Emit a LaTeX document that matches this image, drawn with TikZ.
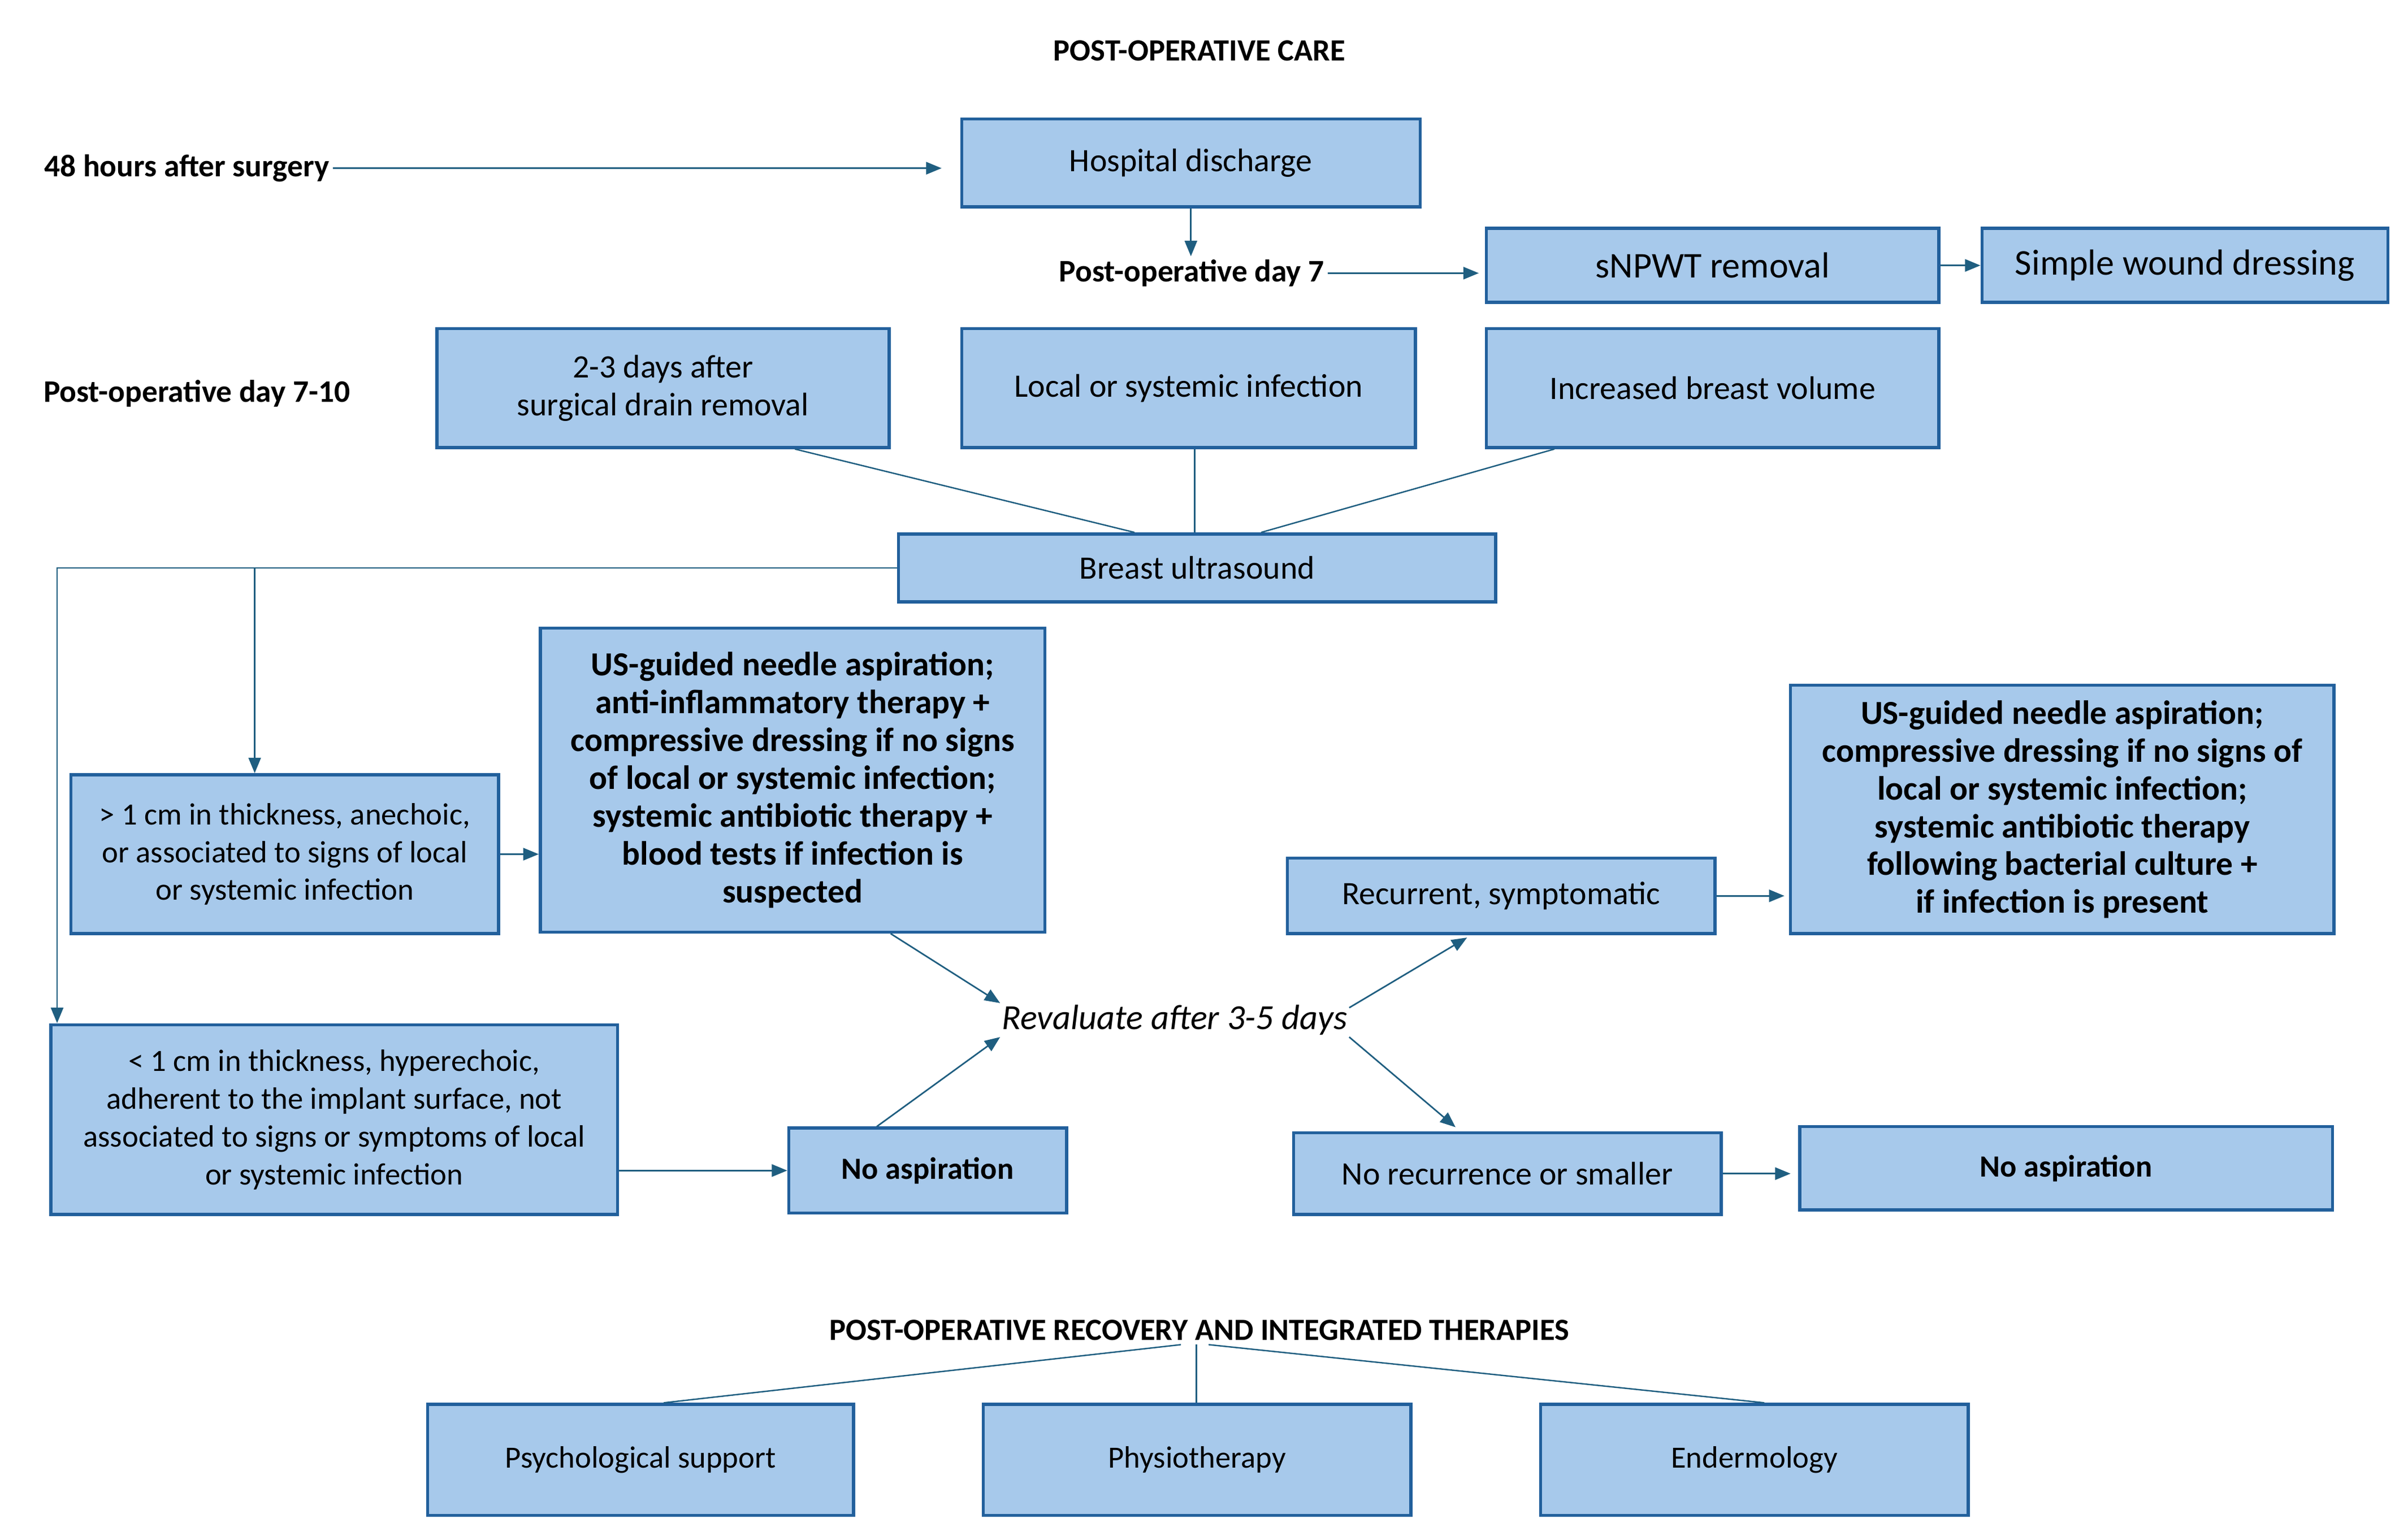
\documentclass[tikz,border=0pt]{standalone}
\usepackage{fontspec}
\setmainfont{Carlito}
\usetikzlibrary{arrows.meta,calc}
\definecolor{boxfill}{HTML}{A7C9EB}
\definecolor{boxline}{HTML}{22609C}
\definecolor{arrc}{HTML}{1F5E80}
\newcommand{\fsz}[2]{\fontsize{#1}{#2}\selectfont}
\begin{document}
\begin{tikzpicture}[x=1pt,y=-1pt,
  box/.style={draw=boxline, fill=boxfill, line width=2pt, align=center, inner sep=2pt, font=\fsz{21.2}{24.5}},
  bx/.style 2 args={box, minimum width=#1pt, minimum height=#2pt},
  lbl/.style={font=\fsz{20.3}{23}\bfseries, inner sep=2pt},
  ttl/.style={font=\fsz{20}{22}\bfseries, inner sep=2.5pt},
  bld/.style={font=\fsz{21.8}{24.5}\bfseries},
  arr/.style={draw=arrc, line width=1pt, -{Triangle[length=10pt,width=8pt]}},
  ln/.style={draw=arrc, line width=0.9pt}]
\useasboundingbox (0,0) rectangle (1560,995);

% titles and labels
\node[ttl] (t1) at (777,33) {POST-OPERATIVE CARE};
\node[lbl] (h48) at (121,109) {48 hours after surgery};
\node[lbl] (pod7) at (772,177) {Post-operative day 7};
\node[lbl] (pod710) at (127.5,255) {Post-operative day 7-10};
\node[ttl] (t2) at (777,862) {POST-OPERATIVE RECOVERY AND INTEGRATED THERAPIES};
\node[font=\fsz{22.8}{26}\itshape, inner sep=1pt] (rev) at (761,661) {Revaluate after 3-5 days};

% boxes
\node[bx={297}{57}] (hd) at (771.5,105.5) {Hospital discharge};
\node[bx={293}{48}, font=\fsz{23.5}{27}] (snpwt) at (1109.5,172) {sNPWT removal};
\node[bx={263}{48}, font=\fsz{23.5}{27}] (swd) at (1415.5,172) {Simple wound dressing};
\node[bx={293}{77}] (d23) at (429.5,251.5) {2-3 days after\\surgical drain removal};
\node[bx={294}{77}] (lsi) at (770,251.5) {Local or systemic infection};
\node[bx={293}{77}] (ibv) at (1109.5,251.5) {Increased breast volume};
\node[bx={387}{44}] (bu) at (775.5,368) {Breast ultrasound};
\node[bx={277}{103}, font=\fsz{20}{24.5}] (gt) at (184.5,553.5) {> 1 cm in thickness, anechoic,\\or associated to signs of local\\or systemic infection};
\node[bx={327}{197}, bld] (usg1) at (513.5,505.5) {US-guided needle aspiration;\\anti-inflammatory therapy +\\compressive dressing if no signs\\of local or systemic infection;\\systemic antibiotic therapy +\\blood tests if infection is\\suspected};
\node[bx={367}{123}, font=\fsz{20}{24.5}] (lt) at (216.5,725.5) {< 1 cm in thickness, hyperechoic,\\adherent to the implant surface, not\\associated to signs or symptoms of local\\or systemic infection};
\node[bx={180}{55}, font=\fsz{20}{24.5}\bfseries] (na1) at (601,758.5) {No aspiration};
\node[bx={277}{49}] (rec) at (972.5,580.5) {Recurrent, symptomatic};
\node[bx={352}{161}, bld] (usg2) at (1336,524.5) {US-guided needle aspiration;\\compressive dressing if no signs of\\local or systemic infection;\\systemic antibiotic therapy\\following bacterial culture +\\if infection is present};
\node[bx={277}{53}] (nrs) at (976.5,760.5) {No recurrence or smaller};
\node[bx={345}{54}, font=\fsz{20}{24.5}\bfseries] (na2) at (1338.5,757) {No aspiration};
\node[bx={276}{72}, font=\fsz{20}{23}] (ps) at (415,946) {Psychological support};
\node[bx={277}{72}, font=\fsz{20}{23}] (ph) at (775.5,946) {Physiotherapy};
\node[bx={277}{72}, font=\fsz{20}{23}] (en) at (1136.5,946) {Endermology};

% connectors top
\draw[arr, shorten >=12pt] (h48.east) -- (h48.east -| hd.west);
\draw[arr] (hd.south) -- (hd.south |- pod7.north);
\draw[arr, shorten >=4pt] (pod7.east) -- (pod7.east -| snpwt.west);
\draw[arr] (snpwt.east) -- (snpwt.east -| swd.west);

\draw[ln] ([xshift=85.5pt]d23.south) -- ([xshift=-40.5pt]bu.north);
\draw[ln] ([xshift=4pt]lsi.south) -- ([xshift=-1.5pt]bu.north);
\draw[ln] ([xshift=-102.5pt]ibv.south) -- ([xshift=41.5pt]bu.north);

% breast ultrasound branches
\coordinate (j1) at (165,368);
\draw[arr] (bu.west) -| ([xshift=5pt]lt.north west);
\draw[arr] (j1) -- (j1 |- gt.north);
\draw[arr] (gt.east) -- (gt.east -| usg1.west);

% revaluate
\draw[arr] ([xshift=63.5pt]usg1.south) -- ([yshift=11pt]rev.west);
\draw[arr] (lt.east |- na1.west) -- (na1.west);
\draw[arr] ([xshift=-33pt]na1.north) -- ([yshift=-11pt]rev.west);
\draw[arr, shorten >=3pt] ([yshift=8pt]rev.east) -- ([xshift=-19.5pt]rec.south);
\draw[arr, shorten >=4pt] ([yshift=-11pt]rev.east) -- ([xshift=-30.5pt]nrs.north);
\draw[arr, shorten >=3pt] (rec.east) -- (rec.east -| usg2.west);
\draw[arr, shorten >=5pt] (nrs.east) -- (nrs.east -| na2.west);

% recovery
\draw[ln] ([xshift=-12pt]t2.south) -- ([xshift=15pt]ps.north);
\draw[ln] ([xshift=-2pt]t2.south) -- ([xshift=-2pt]t2.south |- ph.north);
\draw[ln] ([xshift=6pt]t2.south) -- ([xshift=6.5pt]en.north);
\end{tikzpicture}
\end{document}
